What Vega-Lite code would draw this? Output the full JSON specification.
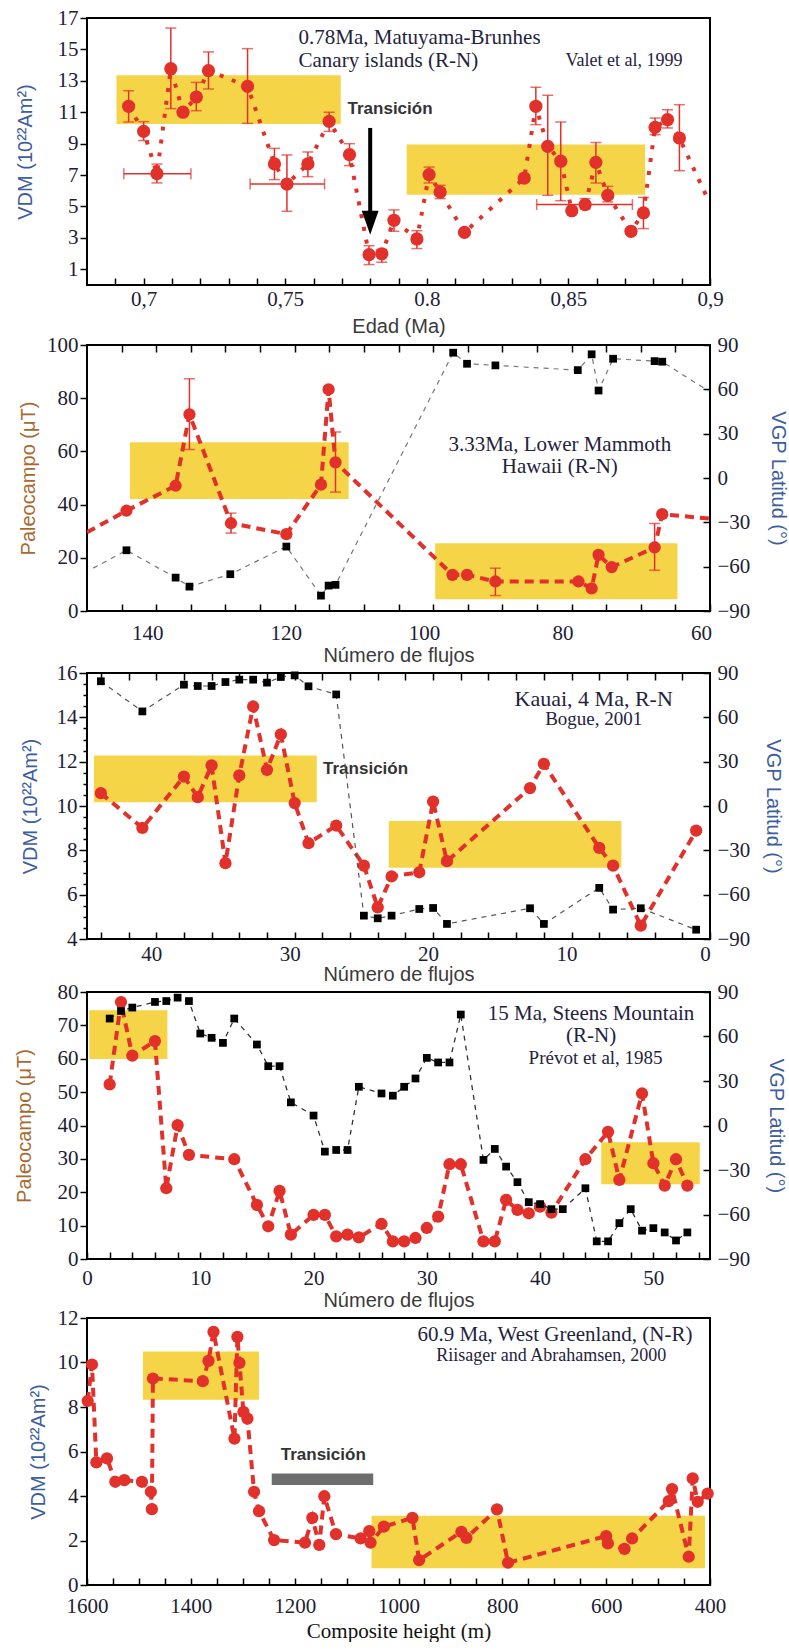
{
"$schema": "https://vega.github.io/schema/vega-lite/v6.json",
"background": "white",
"padding": {"left": 13, "top": 6, "right": 0, "bottom": 0},
"spacing": -5,
"config": {
  "view": {"stroke": "#000", "strokeWidth": 2},
  "axis": {"labelFont": "Liberation Serif", "labelFontSize": 21, "labelColor": "#1d1d33", "titleFont": "Liberation Sans", "titleFontSize": 20, "titleFontWeight": "normal", "titleColor": "#3a3a3a", "tickColor": "#000", "tickWidth": 1.5, "domain": false, "grid": false, "labelOverlap": false, "labelFlush": false, "labelBound": false},
  "text": {"font": "Liberation Serif"}
},
"datasets": {
  "p1": [
    {"x":0.6947,"y":11.38,"ylo":10.38,"yhi":12.37},
    {"x":0.7,"y":9.78,"ylo":9.2,"yhi":10.4},
    {"x":0.7047,"y":7.09,"ylo":6.5,"yhi":7.7,"xlo":0.693,"xhi":0.7167},
    {"x":0.7096,"y":13.77,"ylo":11.23,"yhi":16.36},
    {"x":0.7139,"y":11.0},
    {"x":0.7186,"y":11.97,"ylo":11.1,"yhi":12.9},
    {"x":0.7229,"y":13.65,"ylo":12.48,"yhi":14.84},
    {"x":0.7367,"y":12.65,"ylo":10.29,"yhi":15.05},
    {"x":0.7462,"y":7.71,"ylo":6.71,"yhi":8.7},
    {"x":0.7506,"y":6.43,"ylo":4.69,"yhi":8.28,"xlo":0.7376,"xhi":0.7639},
    {"x":0.758,"y":7.71,"ylo":6.9,"yhi":8.47},
    {"x":0.7655,"y":10.42,"ylo":9.78,"yhi":11.0},
    {"x":0.7727,"y":8.3,"ylo":7.6,"yhi":9.0},
    {"x":0.7796,"y":1.93,"ylo":1.3,"yhi":2.5},
    {"x":0.7841,"y":1.99,"ylo":1.45,"yhi":2.25},
    {"x":0.7884,"y":4.12,"ylo":3.42,"yhi":4.78},
    {"x":0.7965,"y":2.93,"ylo":2.32,"yhi":3.46},
    {"x":0.8008,"y":7.03,"ylo":6.5,"yhi":7.51},
    {"x":0.8047,"y":5.92,"ylo":5.5,"yhi":6.35},
    {"x":0.8133,"y":3.35},
    {"x":0.8344,"y":6.81},
    {"x":0.8385,"y":11.38,"ylo":10.21,"yhi":12.59},
    {"x":0.8427,"y":8.83,"ylo":5.71,"yhi":12.08},
    {"x":0.8473,"y":7.88,"ylo":5.37,"yhi":10.38},
    {"x":0.8512,"y":4.73},
    {"x":0.8559,"y":5.12,"ylo":4.85,"yhi":5.5,"xlo":0.8388,"xhi":0.8726},
    {"x":0.8597,"y":7.81,"ylo":6.5,"yhi":9.08},
    {"x":0.8639,"y":5.71,"ylo":5.29,"yhi":6.28},
    {"x":0.8721,"y":3.42},
    {"x":0.8765,"y":4.59,"ylo":3.59,"yhi":5.58},
    {"x":0.8806,"y":10.04,"ylo":9.57,"yhi":10.63},
    {"x":0.885,"y":10.53,"ylo":10.0,"yhi":11.16},
    {"x":0.8892,"y":9.36,"ylo":7.28,"yhi":11.48},
    {"x":0.8992,"y":5.48,"edge":true}
  ],
  "p1box": [{"x":0.6904,"x2":0.7696,"y":10.25,"y2":13.35},{"x":0.7929,"x2":0.8771,"y":5.75,"y2":8.94}],
  "p1arrow": [{"x":0.78,"y":10.0,"y2":4.6,"tip":3.96}],
  "p1title": [{"x":0.7547,"y":15.73,"label":"0.78Ma, Matuyama-Brunhes"},{"x":0.7547,"y":14.27,"label":"Canary islands (R-N)"}],
  "p1cite": [{"x":0.849,"y":14.24,"label":"Valet et al, 1999"}],
  "p1note": [{"x":0.772,"y":11.23,"label":"Transición"}],
  "p2red": [
    {"x":150,"y":29.6,"edge":true},
    {"x":144.3,"y":37.7},
    {"x":137.2,"y":47.1},
    {"x":135.2,"y":73.9,"ylo":60.7,"yhi":87.3},
    {"x":129.2,"y":33.0,"ylo":29.3,"yhi":36.8},
    {"x":121.2,"y":28.9},
    {"x":116.2,"y":47.5},
    {"x":115.1,"y":83.3},
    {"x":114.1,"y":55.9,"ylo":44.7,"yhi":67.3},
    {"x":97.2,"y":13.6},
    {"x":95.1,"y":13.6},
    {"x":91.0,"y":11.1,"ylo":5.8,"yhi":16.1},
    {"x":79.0,"y":11.1},
    {"x":77.1,"y":8.5},
    {"x":76.1,"y":21.1},
    {"x":74.2,"y":16.5},
    {"x":68.0,"y":23.9,"ylo":15.3,"yhi":32.9},
    {"x":66.9,"y":36.4},
    {"x":60,"y":34.7,"edge":true}
  ],
  "p2black": [
    {"x":149.1,"lat":-61,"edge":true},
    {"x":144.3,"lat":-48.9},
    {"x":137.2,"lat":-67.4},
    {"x":135.2,"lat":-73.5},
    {"x":129.3,"lat":-65.1},
    {"x":121.2,"lat":-46.4},
    {"x":116.2,"lat":-79.6},
    {"x":115.1,"lat":-72.8},
    {"x":114.1,"lat":-72.3},
    {"x":97.1,"lat":84.8},
    {"x":95.1,"lat":77.3},
    {"x":91.0,"lat":76.2},
    {"x":79.1,"lat":73.0},
    {"x":77.1,"lat":83.7},
    {"x":76.1,"lat":59.2},
    {"x":74.0,"lat":80.7},
    {"x":68.0,"lat":79.1},
    {"x":66.9,"lat":78.7},
    {"x":60.2,"lat":58.8,"edge":true}
  ],
  "p2box": [{"x":143.8,"x2":112.2,"y":42.1,"y2":63.4},{"x":99.7,"x2":64.7,"y":4.4,"y2":25.5}],
  "p2title": [{"x":81.7,"y":62.3,"label":"3.33Ma, Lower Mammoth"},{"x":81.7,"y":54.0,"label":"Hawaii (R-N)"}],
  "p3red": [
    {"x":44,"y":10.58},{"x":41,"y":9.01},{"x":38,"y":11.33},{"x":37,"y":10.4},{"x":36,"y":11.83},
    {"x":35,"y":7.42},{"x":34,"y":11.38},{"x":33,"y":14.49},{"x":32,"y":11.63},{"x":31,"y":13.23},
    {"x":30,"y":10.13},{"x":29,"y":8.32},{"x":27,"y":9.12},{"x":25,"y":7.31},{"x":24,"y":5.43},
    {"x":23,"y":6.82},{"x":21,"y":7.01},{"x":20,"y":10.2},{"x":19,"y":7.51},{"x":13,"y":10.81},
    {"x":12,"y":11.9},{"x":8,"y":8.11},{"x":7,"y":7.31},{"x":5,"y":4.6},{"x":1,"y":8.89}
  ],
  "p3black": [
    {"x":44,"lat":84.4},{"x":41,"lat":64.0},{"x":38,"lat":82.1},{"x":37,"lat":81.2},{"x":36,"lat":81.2},
    {"x":35,"lat":83.9},{"x":34,"lat":85.5},{"x":33,"lat":85.5},{"x":32,"lat":83.5},{"x":31,"lat":87.3},
    {"x":30,"lat":88.4},{"x":29,"lat":81.0},{"x":27,"lat":75.5},{"x":25,"lat":-74.2},{"x":24,"lat":-76.0},
    {"x":23,"lat":-74.2},{"x":21,"lat":-69.7},{"x":20,"lat":-69.0},{"x":19,"lat":-79.8},{"x":13,"lat":-69.2},
    {"x":12,"lat":-79.8},{"x":8,"lat":-55.4},{"x":7,"lat":-70.1},{"x":5,"lat":-69.2},{"x":1,"lat":-83.7}
  ],
  "p3box": [{"x":44.5,"x2":28.4,"y":10.17,"y2":12.28},{"x":23.2,"x2":6.4,"y":7.21,"y2":9.32}],
  "p3title": [{"x":8.4,"y":14.84,"label":"Kauai, 4 Ma, R-N"}],
  "p3cite": [{"x":8.4,"y":13.94,"label":"Bogue, 2001"}],
  "p3note": [{"x":27.95,"y":11.68,"label":"Transición"}],
  "p4red": [
    {"x":2,"y":52.3},{"x":3,"y":77.0},{"x":4,"y":60.9},{"x":6,"y":65.3},{"x":7,"y":21.2},
    {"x":8,"y":40.1},{"x":9,"y":31.2},{"x":13,"y":29.9},{"x":15,"y":16.2},{"x":16,"y":9.8},
    {"x":17,"y":20.4},{"x":18,"y":7.3},{"x":20,"y":13.2},{"x":21,"y":13.2},{"x":22,"y":6.8},
    {"x":23,"y":7.3},{"x":24,"y":6.5},{"x":26,"y":10.5},{"x":27,"y":5.3},{"x":28,"y":5.3},
    {"x":29,"y":6.3},{"x":30,"y":9.3},{"x":31,"y":12.7},{"x":32,"y":28.4},{"x":33,"y":28.4},
    {"x":35,"y":5.3},{"x":36,"y":5.3},{"x":37,"y":17.7},{"x":38,"y":14.7},{"x":39,"y":13.7},
    {"x":40,"y":15.7},{"x":41,"y":13.9},{"x":44,"y":29.9},{"x":46,"y":38.1},{"x":47,"y":23.7},
    {"x":49,"y":49.6},{"x":50,"y":28.7},{"x":51,"y":22.0},{"x":52,"y":29.9},{"x":53,"y":22.0}
  ],
  "p4black": [
    {"x":2,"lat":72.1},{"x":3,"lat":77.2},{"x":4,"lat":79.5},{"x":6,"lat":83.3},{"x":7,"lat":83.9},
    {"x":8,"lat":86.2},{"x":9,"lat":83.9},{"x":10,"lat":62.0},{"x":11,"lat":59.1},{"x":12,"lat":55.7},
    {"x":13,"lat":72.1},{"x":15,"lat":54.6},{"x":16,"lat":40.0},{"x":17,"lat":40.0},{"x":18,"lat":15.6},
    {"x":20,"lat":6.7},{"x":21,"lat":-17.6},{"x":22,"lat":-16.5},{"x":23,"lat":-16.5},{"x":24,"lat":26.1},
    {"x":26,"lat":21.6},{"x":27,"lat":20.1},{"x":28,"lat":26.1},{"x":29,"lat":31.7},{"x":30,"lat":45.6},
    {"x":31,"lat":42.5},{"x":32,"lat":42.5},{"x":33,"lat":74.8},{"x":35,"lat":-23.2},{"x":36,"lat":-15.8},
    {"x":37,"lat":-27.7},{"x":38,"lat":-38.2},{"x":39,"lat":-51.7},{"x":40,"lat":-53.0},{"x":41,"lat":-56.4},
    {"x":42,"lat":-56.4},{"x":44,"lat":-42.3},{"x":45,"lat":-78.1},{"x":46,"lat":-78.1},{"x":47,"lat":-65.8},
    {"x":48,"lat":-56.4},{"x":49,"lat":-70.9},{"x":50,"lat":-69.2},{"x":51,"lat":-72.1},{"x":52,"lat":-77.5},
    {"x":53,"lat":-72.1}
  ],
  "p4box": [{"x":0.2,"x2":7.1,"y":59.9,"y2":74.5},{"x":45.4,"x2":54.1,"y":22.4,"y2":35.0}],
  "p4title": [{"x":44.5,"y":73.5,"label":"15 Ma, Steens Mountain"},{"x":44.5,"y":66.9,"label":"(R-N)"}],
  "p4cite": [{"x":44.9,"y":60.1,"label":"Prévot et al, 1985"}],
  "p5red": [
    {"x":1598.7,"y":8.27},{"x":1590.4,"y":9.91},{"x":1582,"y":5.51},{"x":1561.5,"y":5.69},{"x":1545.5,"y":4.64},
    {"x":1528.2,"y":4.71},{"x":1494.2,"y":4.64},{"x":1477,"y":4.19},{"x":1475,"y":3.41},{"x":1473,"y":9.28},
    {"x":1376.9,"y":9.16},{"x":1366,"y":10.07},{"x":1356.4,"y":11.38},{"x":1316,"y":6.58},{"x":1310.3,"y":11.15},
    {"x":1306.4,"y":9.98},{"x":1298.7,"y":7.78},{"x":1291,"y":7.48},{"x":1278.2,"y":4.19},{"x":1268.6,"y":3.32},
    {"x":1239.7,"y":2.02},{"x":1180.1,"y":1.9},{"x":1166,"y":3.02},{"x":1152.6,"y":1.8},{"x":1142.9,"y":3.99},
    {"x":1120.5,"y":2.29},{"x":1073,"y":2.09},{"x":1056.4,"y":2.42},{"x":1053.8,"y":1.9},{"x":1028.2,"y":2.62},
    {"x":973.1,"y":3.02},{"x":960.3,"y":1.12},{"x":878.8,"y":2.39},{"x":869.2,"y":2.12},{"x":810.3,"y":3.4},
    {"x":789.1,"y":1.0},{"x":600,"y":2.2},{"x":596.8,"y":1.87},{"x":564.7,"y":1.62},{"x":550,"y":2.09},
    {"x":479.5,"y":3.77},{"x":473.1,"y":4.31},{"x":441,"y":1.27},{"x":433.3,"y":4.79},{"x":423.7,"y":3.74},
    {"x":404.5,"y":4.11}
  ],
  "p5box": [{"x":1492.3,"x2":1268.6,"y":8.33,"y2":10.5},{"x":1051.9,"x2":409.6,"y":0.75,"y2":3.11}],
  "p5bar": [{"x":1244.2,"x2":1048.7,"y":4.49,"y2":5.01}],
  "p5title": [{"x":698.7,"y":11.22,"label":"60.9 Ma, West Greenland, (N-R)"}],
  "p5cite": [{"x":705.8,"y":10.29,"label":"Riisager and Abrahamsen, 2000"}],
  "p5note": [{"x":1144.9,"y":5.84,"label":"Transición"}]
},
"vconcat": [
{
  "width": 623, "height": 267,
  "encoding": {
    "x": {"field":"x","type":"quantitative","scale":{"domain":[0.68,0.9],"nice":false,"zero":false},
      "axis":{"orient":"bottom","values":[0.69,0.7,0.71,0.72,0.73,0.74,0.75,0.76,0.77,0.78,0.79,0.8,0.81,0.82,0.83,0.84,0.85,0.86,0.87,0.88,0.89,0.9],
         "labelExpr":"datum.value===0.7?'0,7':datum.value===0.75?'0,75':datum.value===0.8?'0.8':datum.value===0.85?'0,85':datum.value===0.9?'0,9':''",
         "tickSize":-7,"labelPadding":10,"title":"Edad (Ma)","titlePadding":7.5}},
    "y": {"field":"y","type":"quantitative","scale":{"domain":[0,17],"nice":false,"zero":false},
      "axis":{"orient":"left","values":[1,3,5,7,9,11,13,15,17],"tickSize":7,"labelPadding":2,"title":"VDM (10²²Am²)","titleColor":"#3c5e9e","titlePadding":22}}
  },
  "layer": [
    {"data":{"name":"p1box"},"mark":{"type":"rect","color":"#f5d547"},"encoding":{"x2":{"field":"x2"},"y2":{"field":"y2"}}},
    {"data":{"name":"p1"},"mark":{"type":"line","color":"#e2302a","strokeWidth":4,"strokeDash":[4,9],"clip":true}},
    {"data":{"name":"p1"},"transform":[{"filter":"isValid(datum.ylo)"}],"mark":{"type":"rule","color":"#e2302a","strokeWidth":1.5},
     "encoding":{"y":{"field":"ylo","type":"quantitative","scale":{"domain":[0,17],"nice":false,"zero":false}},"y2":{"field":"yhi"}}},
    {"data":{"name":"p1"},"transform":[{"fold":["ylo","yhi"],"as":["k","cap"]},{"filter":"isValid(datum.cap)"}],
     "mark":{"type":"tick","orient":"horizontal","color":"#e2302a","size":11,"thickness":1.5},
     "encoding":{"y":{"field":"cap","type":"quantitative","scale":{"domain":[0,17],"nice":false,"zero":false}}}},
    {"data":{"name":"p1"},"transform":[{"filter":"isValid(datum.xlo)"}],"mark":{"type":"rule","color":"#e2302a","strokeWidth":1.5},
     "encoding":{"x":{"field":"xlo","type":"quantitative","scale":{"domain":[0.68,0.9],"nice":false,"zero":false}},"x2":{"field":"xhi"}}},
    {"data":{"name":"p1"},"transform":[{"fold":["xlo","xhi"],"as":["k","cap"]},{"filter":"isValid(datum.cap)"}],
     "mark":{"type":"tick","orient":"vertical","color":"#e2302a","size":11,"thickness":1.5},
     "encoding":{"x":{"field":"cap","type":"quantitative","scale":{"domain":[0.68,0.9],"nice":false,"zero":false}}}},
    {"data":{"name":"p1"},"transform":[{"filter":"!datum.edge"}],"mark":{"type":"circle","color":"#e2302a","size":175,"opacity":1}},
    {"data":{"name":"p1arrow"},"mark":{"type":"rule","color":"#000","strokeWidth":4},"encoding":{"y2":{"field":"y2"}}},
    {"data":{"name":"p1arrow"},"mark":{"type":"point","shape":"M-0.7,-1L0.7,-1L0,1Z","filled":true,"color":"#000","size":576,"opacity":1},
     "encoding":{"y":{"field":"tip","type":"quantitative","scale":{"domain":[0,17],"nice":false,"zero":false}}}},
    {"data":{"name":"p1title"},"mark":{"type":"text","font":"Liberation Serif","fontSize":21,"color":"#1f2340","align":"left","baseline":"middle"},"encoding":{"text":{"field":"label"}}},
    {"data":{"name":"p1cite"},"mark":{"type":"text","font":"Liberation Serif","fontSize":18,"color":"#1f2340","align":"left","baseline":"middle"},"encoding":{"text":{"field":"label"}}},
    {"data":{"name":"p1note"},"mark":{"type":"text","font":"Liberation Sans","fontSize":17,"fontWeight":"bold","color":"#333","align":"left","baseline":"middle"},"encoding":{"text":{"field":"label"}}}
  ]
},
{
  "width": 623, "height": 266,
  "encoding": {"x": {"field":"x","type":"quantitative","scale":{"domain":[60,150],"reverse":true,"nice":false,"zero":false},
    "axis":{"orient":"bottom","values":[145,140,135,130,125,120,115,110,105,100,95,90,85,80,75,70,65,60],"labelExpr":"datum.value % 20 === 0 ? datum.label : ''",
           "tickSize":-7,"labelPadding":18,"labelOffset":-9,"title":"Número de flujos","titlePadding":2}}},
  "layer": [
    {"encoding":{"y":{"field":"y","type":"quantitative","scale":{"domain":[0,100],"nice":false,"zero":false},
       "axis":{"orient":"left","values":[0,20,40,60,80,100],"tickSize":7,"labelPadding":2,"title":"Paleocampo (μT)","titleColor":"#a8692f","titlePadding":8}}},
     "layer":[
      {"data":{"name":"p2box"},"mark":{"type":"rect","color":"#f5d547"},"encoding":{"x2":{"field":"x2"},"y2":{"field":"y2"}}},
      {"data":{"name":"p2red"},"mark":{"type":"line","color":"#e2302a","strokeWidth":4,"strokeDash":[9,6],"clip":true}},
      {"data":{"name":"p2red"},"transform":[{"filter":"isValid(datum.ylo)"}],"mark":{"type":"rule","color":"#e2302a","strokeWidth":1.5},
       "encoding":{"y":{"field":"ylo","type":"quantitative","scale":{"domain":[0,100],"nice":false,"zero":false}},"y2":{"field":"yhi"}}},
      {"data":{"name":"p2red"},"transform":[{"fold":["ylo","yhi"],"as":["k","cap"]},{"filter":"isValid(datum.cap)"}],
       "mark":{"type":"tick","orient":"horizontal","color":"#e2302a","size":11,"thickness":1.5},
       "encoding":{"y":{"field":"cap","type":"quantitative","scale":{"domain":[0,100],"nice":false,"zero":false}}}},
      {"data":{"name":"p2red"},"transform":[{"filter":"!datum.edge"}],"mark":{"type":"circle","color":"#e2302a","size":150,"opacity":1}},
      {"data":{"name":"p2title"},"mark":{"type":"text","font":"Liberation Serif","fontSize":21,"color":"#1f2340","align":"center","baseline":"middle"},"encoding":{"text":{"field":"label"}}}
     ]},
    {"data":{"name":"p2black"},
     "encoding":{
       "x":{"field":"x","type":"quantitative","scale":{"domain":[60,150],"reverse":true,"nice":false,"zero":false},
         "axis":{"orient":"top","values":[145,140,135,130,125,120,115,110,105,100,95,90,85,80,75,70,65],"labels":false,"tickSize":-7,"title":null}},
       "y":{"field":"lat","type":"quantitative","scale":{"domain":[-90,90],"nice":false,"zero":false},
         "axis":{"orient":"right","values":[-90,-60,-30,0,30,60,90],"tickSize":-7,"labelPadding":14,"title":"VGP Latitud (°)","titleColor":"#3c5e9e","titlePadding":17.5}}},
     "layer":[
      {"mark":{"type":"line","color":"#777","strokeWidth":1.2,"strokeDash":[5,5],"clip":true}},
      {"transform":[{"filter":"!datum.edge"}],"mark":{"type":"square","color":"#000","filled":true,"size":60,"opacity":1}}
     ]}
  ],
  "resolve": {"scale": {"y": "independent"}}
},
{
  "width": 623, "height": 266,
  "encoding": {"x": {"field":"x","type":"quantitative","scale":{"domain":[0,45],"reverse":true,"nice":false,"zero":false},
    "axis":{"orient":"bottom","values":[0,2,4,6,8,10,12,14,16,18,20,22,24,26,28,30,32,34,36,38,40,42,44],"labelExpr":"datum.value % 10 === 0 ? datum.label : ''",
           "tickSize":-7,"labelPadding":11,"labelOffset":-5,"title":"Número de flujos","titlePadding":0}}},
  "layer": [
    {"encoding":{"y":{"field":"y","type":"quantitative","scale":{"domain":[4,16],"nice":false,"zero":false},
       "axis":{"orient":"left","values":[4,4.5,5,5.5,6,6.5,7,7.5,8,8.5,9,9.5,10,10.5,11,11.5,12,12.5,13,13.5,14,14.5,15,15.5,16],
                "labelExpr":"datum.value % 2 === 0 ? format(datum.value, 'd') : ''",
                "tickSize":{"condition":{"test":"datum.value % 2 === 0","value":8},"value":4},"labelPadding":2,"title":"VDM (10²²Am²)","titleColor":"#3c5e9e","titlePadding":16}}},
     "layer":[
      {"data":{"name":"p3box"},"mark":{"type":"rect","color":"#f5d547"},"encoding":{"x2":{"field":"x2"},"y2":{"field":"y2"}}},
      {"data":{"name":"p3red"},"mark":{"type":"line","color":"#e2302a","strokeWidth":4,"strokeDash":[9,6],"clip":true}},
      {"data":{"name":"p3red"},"mark":{"type":"circle","color":"#e2302a","size":150,"opacity":1}},
      {"data":{"name":"p3title"},"mark":{"type":"text","font":"Liberation Serif","fontSize":22,"color":"#1f2340","align":"center","baseline":"middle"},"encoding":{"text":{"field":"label"}}},
      {"data":{"name":"p3cite"},"mark":{"type":"text","font":"Liberation Serif","fontSize":19,"color":"#1f2340","align":"center","baseline":"middle"},"encoding":{"text":{"field":"label"}}},
      {"data":{"name":"p3note"},"mark":{"type":"text","font":"Liberation Sans","fontSize":17,"fontWeight":"bold","color":"#333","align":"left","baseline":"middle"},"encoding":{"text":{"field":"label"}}}
     ]},
    {"data":{"name":"p3black"},
     "encoding":{
       "x":{"field":"x","type":"quantitative","scale":{"domain":[0,45],"reverse":true,"nice":false,"zero":false},
         "axis":{"orient":"top","values":[2,4,6,8,10,12,14,16,18,20,22,24,26,28,30,32,34,36,38,40,42,44],"labels":false,"tickSize":-7,"title":null}},
       "y":{"field":"lat","type":"quantitative","scale":{"domain":[-90,90],"nice":false,"zero":false},
         "axis":{"orient":"right","values":[-90,-60,-30,0,30,60,90],"tickSize":-7,"labelPadding":14,"title":"VGP Latitud (°)","titleColor":"#3c5e9e","titlePadding":12.5}}},
     "layer":[
      {"mark":{"type":"line","color":"#555","strokeWidth":1.2,"strokeDash":[5,5],"clip":true}},
      {"mark":{"type":"square","color":"#000","filled":true,"size":60,"opacity":1}}
     ]}
  ],
  "resolve": {"scale": {"y": "independent"}}
},
{
  "width": 623, "height": 267,
  "encoding": {"x": {"field":"x","type":"quantitative","scale":{"domain":[0,55],"nice":false,"zero":false},
    "axis":{"orient":"bottom","values":[0,2,4,6,8,10,12,14,16,18,20,22,24,26,28,30,32,34,36,38,40,42,44,46,48,50,52,54],"labelExpr":"datum.value % 10 === 0 ? datum.label : ''",
           "tickSize":-7,"labelPadding":15,"title":"Número de flujos","titlePadding":2}}},
  "layer": [
    {"encoding":{"y":{"field":"y","type":"quantitative","scale":{"domain":[0,80],"nice":false,"zero":false},
       "axis":{"orient":"left","values":[0,10,20,30,40,50,60,70,80],"tickSize":7,"labelPadding":2,"title":"Paleocampo (μT)","titleColor":"#a8692f","titlePadding":23}}},
     "layer":[
      {"data":{"name":"p4box"},"mark":{"type":"rect","color":"#f5d547"},"encoding":{"x2":{"field":"x2"},"y2":{"field":"y2"}}},
      {"data":{"name":"p4red"},"mark":{"type":"line","color":"#e2302a","strokeWidth":4,"strokeDash":[9,6],"clip":true}},
      {"data":{"name":"p4red"},"mark":{"type":"circle","color":"#e2302a","size":150,"opacity":1}},
      {"data":{"name":"p4title"},"mark":{"type":"text","font":"Liberation Serif","fontSize":21,"color":"#1f2340","align":"center","baseline":"middle"},"encoding":{"text":{"field":"label"}}},
      {"data":{"name":"p4cite"},"mark":{"type":"text","font":"Liberation Serif","fontSize":19,"color":"#1f2340","align":"center","baseline":"middle"},"encoding":{"text":{"field":"label"}}}
     ]},
    {"data":{"name":"p4black"},
     "encoding":{"y":{"field":"lat","type":"quantitative","scale":{"domain":[-90,90],"nice":false,"zero":false},
         "axis":{"orient":"right","values":[-90,-60,-30,0,30,60,90],"tickSize":-7,"labelPadding":14,"title":"VGP Latitud (°)","titleColor":"#3c5e9e","titlePadding":15.5}}},
     "layer":[
      {"mark":{"type":"line","color":"#333","strokeWidth":1.3,"strokeDash":[5,5],"clip":true}},
      {"mark":{"type":"square","color":"#000","filled":true,"size":60,"opacity":1}}
     ]}
  ],
  "resolve": {"scale": {"y": "independent"}}
},
{
  "width": 623, "height": 267,
  "encoding": {
    "x": {"field":"x","type":"quantitative","scale":{"domain":[400,1600],"reverse":true,"nice":false,"zero":false},
       "axis":{"orient":"bottom","values":[400,450,500,550,600,650,700,750,800,850,900,950,1000,1050,1100,1150,1200,1250,1300,1350,1400,1450,1500,1550,1600],
         "labelExpr":"datum.value % 200 === 0 ? datum.value + '' : ''",
         "tickSize":-7,"labelPadding":17,"title":"Composite height (m)","titleFont":"Liberation Serif","titleFontSize":21,"titleColor":"#111","titlePadding":4}},
    "y": {"field":"y","type":"quantitative","scale":{"domain":[0,12],"nice":false,"zero":false},
       "axis":{"orient":"left","values":[0,2,4,6,8,10,12],"tickSize":7,"labelPadding":2,"title":"VDM (10²²Am²)","titleColor":"#3c5e9e","titlePadding":9}}
  },
  "layer": [
    {"data":{"name":"p5box"},"mark":{"type":"rect","color":"#f5d547"},"encoding":{"x2":{"field":"x2"},"y2":{"field":"y2"}}},
    {"data":{"name":"p5bar"},"mark":{"type":"rect","color":"#6d6d6d"},"encoding":{"x2":{"field":"x2"},"y2":{"field":"y2"}}},
    {"data":{"name":"p5red"},"mark":{"type":"line","color":"#e2302a","strokeWidth":4,"strokeDash":[9,6],"clip":true}},
    {"data":{"name":"p5red"},"mark":{"type":"circle","color":"#e2302a","size":150,"opacity":1}},
    {"data":{"name":"p5title"},"mark":{"type":"text","font":"Liberation Serif","fontSize":21,"color":"#1f2340","align":"center","baseline":"middle"},"encoding":{"text":{"field":"label"}}},
    {"data":{"name":"p5cite"},"mark":{"type":"text","font":"Liberation Serif","fontSize":18,"color":"#1f2340","align":"center","baseline":"middle"},"encoding":{"text":{"field":"label"}}},
    {"data":{"name":"p5note"},"mark":{"type":"text","font":"Liberation Sans","fontSize":17,"fontWeight":"bold","color":"#333","align":"center","baseline":"middle"},"encoding":{"text":{"field":"label"}}}
  ]
}
]
}
